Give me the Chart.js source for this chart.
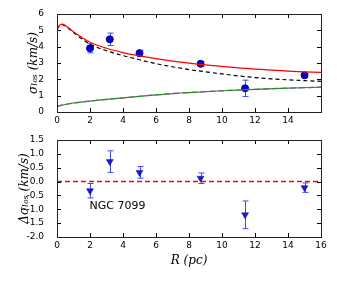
<!DOCTYPE html>
<html>
<head>
<meta charset="utf-8">
<script src="https://cdn.jsdelivr.net/npm/chart.js@4.4.0/dist/chart.umd.min.js"></script>
<style>
  body { margin: 0; background: #fff; width: 337px; height: 281px; overflow: hidden; position: relative; }
  #top { position: absolute; left: 0; top: 0; }
  #bot { position: absolute; left: 0; top: 126px; }
</style>
</head>
<body>
<canvas id="top" width="337" height="135"></canvas>
<canvas id="bot" width="337" height="155"></canvas>
<script>
// observed dispersion profile
const obsR = [2, 3.2, 5, 8.7, 11.4, 15];
const obsSigma = [3.9, 4.45, 3.6, 2.95, 1.45, 2.25];
const obsErr = [0.28, 0.38, 0.18, 0.15, 0.5, 0.12];

// model curves
const modelR = [0, 0.15, 0.3, 0.5, 1, 1.5, 2, 3, 4, 5, 6, 7, 8, 9, 10, 11, 12, 13, 14, 15, 16];
const totalSigma = [5.05, 5.3, 5.38, 5.3, 4.92, 4.57, 4.27, 3.9, 3.64, 3.44, 3.27, 3.12, 2.99, 2.88, 2.79, 2.7, 2.63, 2.56, 2.5, 2.46, 2.42];
const starSigma = [5.05, 5.28, 5.35, 5.26, 4.86, 4.48, 4.15, 3.75, 3.45, 3.2, 2.96, 2.77, 2.6, 2.46, 2.33, 2.21, 2.11, 2.03, 1.97, 1.92, 1.88];
const extraR = [0, 0.5, 1, 2, 3, 4, 5, 6, 7, 8, 10, 12, 14, 16];
const extraSigma = [0.35, 0.46, 0.55, 0.67, 0.77, 0.87, 0.96, 1.05, 1.13, 1.19, 1.3, 1.39, 1.46, 1.52];

// residuals
const resR = [2, 3.2, 5, 8.7, 11.4, 15];
const resVal = [-0.33, 0.72, 0.33, 0.12, -1.2, -0.22];
const resErr = [0.26, 0.39, 0.21, 0.19, 0.5, 0.17];

const xTicks = [0, 2, 4, 6, 8, 10, 12, 14, 16];

const pts = (xs, ys) => xs.map((x, i) => ({ x: x, y: ys[i] }));

// box, inward ticks, x tick labels, error bars, note
const framePlugin = {
    id: 'frame',
    beforeDatasetsDraw(chart) {
        const ctx = chart.ctx;
        chart.data.datasets.forEach(ds => {
            if (!ds.errors) return;
            const xs = chart.scales.x, ys = chart.scales.y;
            ctx.save();
            ctx.strokeStyle = ds.errColor;
            ctx.lineWidth = 1;
            ds.data.forEach((p, i) => {
                const px = Math.round(xs.getPixelForValue(p.x)) + 0.5;
                const y1 = ys.getPixelForValue(p.y + ds.errors[i]);
                const y2 = ys.getPixelForValue(p.y - ds.errors[i]);
                ctx.beginPath();
                ctx.moveTo(px, y1); ctx.lineTo(px, y2);
                ctx.moveTo(px - 3, y1); ctx.lineTo(px + 3, y1);
                ctx.moveTo(px - 3, y2); ctx.lineTo(px + 3, y2);
                ctx.stroke();
            });
            ctx.restore();
        });
    },
    afterDatasetsDraw(chart) {
        const ctx = chart.ctx;
        const a = chart.chartArea;
        const xs = chart.scales.x, ys = chart.scales.y;
        const cfg = chart.config.options;
        ctx.save();
        ctx.strokeStyle = '#000';
        ctx.lineWidth = 1;
        ctx.setLineDash([]);
        ctx.beginPath();
        xTicks.forEach(v => {
            const px = Math.round(xs.getPixelForValue(v)) + 0.5;
            ctx.moveTo(px, a.bottom); ctx.lineTo(px, a.bottom - 4);
            ctx.moveTo(px, a.top); ctx.lineTo(px, a.top + 4);
        });
        ys.ticks.forEach(t => {
            const py = Math.round(ys.getPixelForValue(t.value)) + 0.5;
            ctx.moveTo(a.left, py); ctx.lineTo(a.left + 4, py);
            ctx.moveTo(a.right, py); ctx.lineTo(a.right - 4, py);
        });
        ctx.stroke();
        ctx.strokeStyle = '#222';
        ctx.strokeRect(Math.round(a.left) + 0.5, Math.round(a.top) + 0.5,
            Math.round(a.right - a.left), Math.round(a.bottom - a.top));

        ctx.fillStyle = '#000';
        ctx.font = '9px "DejaVu Sans"';
        ctx.textAlign = 'center';
        ctx.textBaseline = 'top';
        xTicks.forEach(v => {
            if (v > cfg.lastXLabel) return;
            ctx.fillText(String(v), xs.getPixelForValue(v), a.bottom + 4);
        });

        const lbl = cfg.noteLabel;
        if (lbl) {
            ctx.font = '11px "DejaVu Sans"';
            ctx.textBaseline = 'middle';
            ctx.fillText(lbl.text, xs.getPixelForValue(lbl.x), ys.getPixelForValue(lbl.y));
        }
        ctx.restore();
    }
};

const tickFont = { family: 'DejaVu Sans', size: 9 };
const titleFont = { family: 'DejaVu Serif', size: 12, style: 'italic' };

function xAxis(title, height) {
    return {
        type: 'linear', min: 0, max: 16,
        afterFit: s => { s.height = height; },
        grid: { display: false, drawTicks: false, tickLength: 0 },
        border: { display: false },
        ticks: { display: false },
        title: title ? { display: true, text: title, font: titleFont, color: '#000', padding: { top: 0, bottom: 13 } } : { display: false }
    };
}

new Chart(document.getElementById('top'), {
    type: 'line',
    data: {
        datasets: [
            { data: pts(modelR, totalSigma), borderColor: '#ff0000', borderWidth: 1.2, pointRadius: 0, cubicInterpolationMode: 'monotone' },
            { data: pts(modelR, starSigma), borderColor: '#000', borderWidth: 1.2, borderDash: [4, 3], pointRadius: 0, cubicInterpolationMode: 'monotone' },
            { data: pts(extraR, extraSigma), borderColor: '#2e8b2e', borderWidth: 1.2, pointRadius: 0, cubicInterpolationMode: 'monotone' },
            { data: pts(extraR, extraSigma), borderColor: '#d040d0', borderWidth: 1.3, borderDash: [6, 3], pointRadius: 0, cubicInterpolationMode: 'monotone' },
            { type: 'scatter', data: pts(obsR, obsSigma), errors: obsErr, errColor: '#3a4cff', showLine: false,
              pointRadius: 3.5, pointBackgroundColor: '#0000e0', pointBorderColor: '#00007a', pointBorderWidth: 1 }
        ]
    },
    options: {
        responsive: false, animation: false,
        lastXLabel: 14,
        layout: { padding: { left: 0, right: 16, top: 14, bottom: 0 } },
        plugins: { legend: { display: false }, tooltip: { enabled: false } },
        scales: {
            x: xAxis(null, 23),
            y: {
                min: 0, max: 6,
                afterFit: s => { s.width = 57; },
                grid: { display: false }, border: { display: false },
                ticks: { stepSize: 1, color: '#000', font: tickFont, padding: 5 },
                title: { display: true, text: 'σₗₒₛ (km/s)', font: titleFont, color: '#000', padding: { top: 27, bottom: 0 } }
            }
        }
    },
    plugins: [framePlugin]
});

new Chart(document.getElementById('bot'), {
    type: 'scatter',
    data: {
        datasets: [
            { type: 'line', data: pts([0, 16], [0, 0]), borderColor: '#ff0000', borderWidth: 1.5, borderDash: [5, 3], pointRadius: 0 },
            { data: pts(resR, resVal), errors: resErr, errColor: '#3a4cff',
              pointStyle: 'triangle', rotation: 180, pointRadius: 4, pointBackgroundColor: '#1a1acc', pointBorderColor: '#10108a', pointBorderWidth: 0.5 }
        ]
    },
    options: {
        responsive: false, animation: false,
        lastXLabel: 16,
        noteLabel: { text: 'NGC 7099', x: 3.67, y: -0.89 },
        layout: { padding: { left: 0, right: 16, top: 14, bottom: 0 } },
        plugins: { legend: { display: false }, tooltip: { enabled: false } },
        scales: {
            x: xAxis('R (pc)', 44),
            y: {
                min: -2, max: 1.5,
                afterFit: s => { s.width = 57; },
                grid: { display: false }, border: { display: false },
                ticks: { stepSize: 0.5, color: '#000', font: tickFont, padding: 5, callback: v => v.toFixed(1) },
                title: { display: true, text: 'Δσₗₒₛ (km/s)', font: titleFont, color: '#000', padding: { top: 18, bottom: 0 } }
            }
        }
    },
    plugins: [framePlugin]
});
</script>
</body>
</html>
